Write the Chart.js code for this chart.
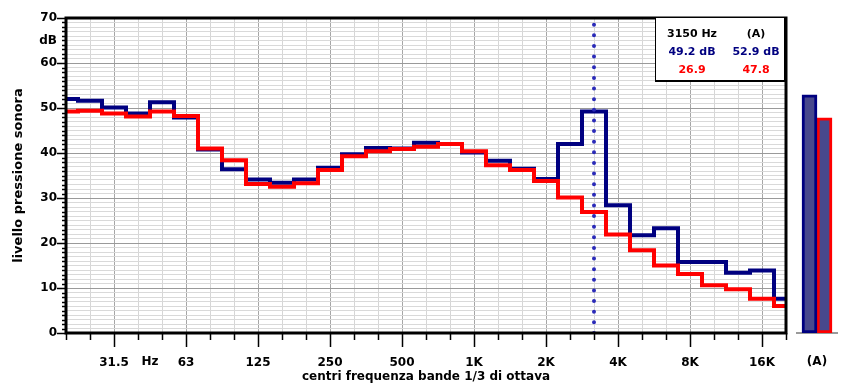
<!DOCTYPE html>
<html>
<head>
<meta charset="utf-8">
<script src="https://cdn.jsdelivr.net/npm/chart.js@4.4.1/dist/chart.umd.min.js"></script>
<style>
  html, body { margin: 0; padding: 0; background: #fff; }
  #wrap { position: relative; width: 842px; height: 383px; }
  #spec { position: absolute; left: 0; top: 0; }
  #tot  { position: absolute; left: 790px; top: 0; }
</style>
</head>
<body>
<div id="wrap">
  <canvas id="spec" width="842" height="383"></canvas>
  <canvas id="tot" width="52" height="383"></canvas>
</div>
<script>
// 1/3-octave band centres (Hz)
const bandCenters = [20, 25, 31.5, 40, 50, 63, 80, 100, 125, 160, 200, 250, 315, 400, 500,
  630, 800, 1000, 1250, 1600, 2000, 2500, 3150, 4000, 5000, 6300, 8000, 10000, 12500, 16000, 20000];

// bands that carry a label on the frequency axis
const labeledBands = [31.5, 63, 125, 250, 500, 1000, 2000, 4000, 8000, 16000];
const labeledText  = ['31.5', '63', '125', '250', '500', '1K', '2K', '4K', '8K', '16K'];

// sound pressure levels per band (dB)
const levelsBlue = [52.0, 51.6, 50.1, 48.8, 51.3, 47.9, 40.8, 36.4, 34.1, 33.4, 34.1, 36.7, 39.7, 41.1, 41.0,
  42.3, 42.0, 40.1, 38.3, 36.5, 34.2, 42.0, 49.2, 28.4, 21.7, 23.3, 15.8, 15.8, 13.4, 13.9, 7.6];
const levelsRed  = [49.2, 49.4, 48.8, 48.1, 49.2, 48.2, 41.0, 38.4, 33.1, 32.5, 33.3, 36.2, 39.3, 40.4, 40.9,
  41.4, 42.0, 40.4, 37.3, 36.2, 33.8, 30.1, 26.9, 21.9, 18.4, 15.0, 13.1, 10.6, 9.7, 7.6, 6.0];

// A-weighted overall levels (dB)
const totalLabel = '(A)';
const totalA = [52.9, 47.8];

// cursor band
const cursorBand = 3150;

// y ticks
const yMin = 0, yMax = 70;
const yMajorTicks = [0, 10, 20, 30, 40, 50, 60, 70];
const yUnitTick = 65;

const NAVY = '#000080';
const RED = '#ff0000';
const FONT = '"DejaVu Sans", sans-serif';

const cursorIdx = bandCenters.indexOf(cursorBand);
const idxLabel = i => {
  const k = labeledBands.indexOf(bandCenters[i]);
  return k >= 0 ? labeledText[k] : '';
};

Chart.defaults.font.family = FONT;
Chart.defaults.color = '#000';

const toPoints = arr => arr.map((v, i) => ({ x: i, y: v }));

// axis decorations: tick marks, frame, unit text, readout box
const decor = {
  id: 'decor',
  afterDraw(chart) {
    const { ctx, chartArea: a, scales: { x, y } } = chart;
    ctx.save();
    ctx.strokeStyle = '#000';
    ctx.lineWidth = 1.5;
    // y tick marks
    for (let v = yMin; v <= yMax; v++) {
      const py = Math.round(y.getPixelForValue(v)) + 0.5;
      const len = v % 10 === 0 ? 9 : 4;
      ctx.beginPath();
      ctx.moveTo(a.left - len, py);
      ctx.lineTo(a.left, py);
      ctx.stroke();
    }
    // x tick marks
    for (let i = 0; i < bandCenters.length; i++) {
      const px = Math.round(x.getPixelForValue(i)) + 0.5;
      const len = idxLabel(i) ? 14 : 7;
      ctx.beginPath();
      ctx.moveTo(px, a.bottom);
      ctx.lineTo(px, a.bottom + len);
      ctx.stroke();
    }
    // frame
    ctx.lineWidth = 3;
    ctx.strokeRect(a.left, a.top, a.right - a.left, a.bottom - a.top);

    // unit next to 31.5
    ctx.font = 'bold 12px ' + FONT;
    ctx.fillStyle = '#000';
    ctx.textAlign = 'center';
    ctx.textBaseline = 'middle';
    ctx.fillText('Hz', x.getPixelForValue(3.5), 362);

    // readout box
    const bw = 131, bh = 65;
    const bx = a.right - bw, by = a.top - 1;
    ctx.fillStyle = '#fff';
    ctx.fillRect(bx, by, bw, bh);
    ctx.lineWidth = 1;
    ctx.strokeStyle = '#000';
    ctx.strokeRect(bx + 0.5, by + 0.5, bw - 1, bh - 1);
    ctx.lineWidth = 2;
    ctx.beginPath();
    ctx.moveTo(bx + bw - 1, by);
    ctx.lineTo(bx + bw - 1, by + bh - 1);
    ctx.lineTo(bx, by + bh - 1);
    ctx.stroke();

    const c1 = bx + 37, c2 = bx + 101;
    ctx.font = 'bold 11px ' + FONT;
    ctx.fillStyle = '#000';
    ctx.fillText(cursorBand + ' Hz', c1, by + 17);
    ctx.fillText(totalLabel, c2, by + 17);
    ctx.fillStyle = NAVY;
    ctx.fillText(levelsBlue[cursorIdx].toFixed(1) + ' dB', c1, by + 35);
    ctx.fillText(totalA[0].toFixed(1) + ' dB', c2, by + 35);
    ctx.fillStyle = RED;
    ctx.fillText(levelsRed[cursorIdx].toFixed(1), c1, by + 53);
    ctx.fillText(totalA[1].toFixed(1), c2, by + 53);
    ctx.restore();
  }
};

new Chart(document.getElementById('spec'), {
  type: 'line',
  data: {
    datasets: [
      {
        data: [{ x: cursorIdx, y: yMin }, { x: cursorIdx, y: yMax }],
        borderColor: '#2a2ab8',
        borderWidth: 4,
        borderDash: [0, 10.63],
        borderCapStyle: 'round',
        pointRadius: 0,
        fill: false
      },
      {
        data: toPoints(levelsRed),
        borderColor: RED,
        borderWidth: 4,
        stepped: 'middle',
        pointRadius: 0,
        fill: false
      },
      {
        data: toPoints(levelsBlue),
        borderColor: NAVY,
        borderWidth: 4,
        stepped: 'middle',
        pointRadius: 0,
        fill: false
      }
    ]
  },
  options: {
    responsive: false,
    animation: false,
    events: [],
    layout: { padding: { left: 0, top: 18, right: 56, bottom: 0 } },
    plugins: { legend: { display: false }, tooltip: { enabled: false } },
    scales: {
      x: {
        type: 'linear',
        min: 0,
        max: bandCenters.length - 1,
        afterFit: s => { s.height = 50; },
        border: { display: false },
        grid: {
          drawTicks: false,
          color: c => idxLabel(c.tick.value) ? '#a6a6a6' : '#d6d6d6'
        },
        ticks: {
          stepSize: 1,
          autoSkip: false,
          maxRotation: 0,
          minRotation: 0,
          padding: 23,
          font: { size: 12, weight: 'bold' },
          callback: v => idxLabel(v)
        },
        title: {
          display: true,
          text: 'centri frequenza bande 1/3 di ottava',
          font: { size: 12, weight: 'bold' },
          padding: { top: 0, bottom: -1 }
        }
      },
      y: {
        min: yMin,
        max: yMax,
        afterFit: s => { s.width = 66; },
        border: { display: false },
        grid: {
          drawTicks: false,
          color: c => c.tick.value % 10 === 0 ? '#9a9a9a' : '#d9d9d9'
        },
        ticks: {
          stepSize: 1,
          autoSkip: false,
          padding: 9,
          font: { size: 12, weight: 'bold' },
          callback: v => yMajorTicks.includes(v) ? String(v) : (v === yUnitTick ? 'dB' : '')
        },
        title: {
          display: true,
          text: 'livello pressione sonora',
          font: { size: 13, weight: 'bold' },
          padding: { top: 11, bottom: 0 }
        }
      }
    }
  },
  plugins: [decor]
});

// overall A-weighted levels
const barFill = '#48488c';
new Chart(document.getElementById('tot'), {
  type: 'bar',
  data: {
    labels: [totalLabel],
    datasets: [
      { data: [totalA[0]], backgroundColor: barFill, borderColor: NAVY, borderWidth: 3,
        borderSkipped: false, barThickness: 15 },
      { data: [totalA[1]], backgroundColor: barFill, borderColor: RED, borderWidth: 3,
        borderSkipped: false, barThickness: 15 }
    ]
  },
  options: {
    responsive: false,
    animation: false,
    events: [],
    layout: { padding: { left: 7, top: 18, right: 5, bottom: 0 } },
    plugins: { legend: { display: false }, tooltip: { enabled: false } },
    scales: {
      x: {
        afterFit: s => { s.height = 50; },
        grid: { display: false, drawTicks: false },
        border: { display: true, color: '#9a9a9a', width: 2 },
        ticks: { display: false },
        title: {
          display: true,
          text: totalLabel,
          font: { size: 12, weight: 'bold' },
          padding: { top: 0, bottom: 14 }
        }
      },
      y: { display: false, min: yMin, max: yMax }
    }
  }
});
</script>
</body>
</html>
